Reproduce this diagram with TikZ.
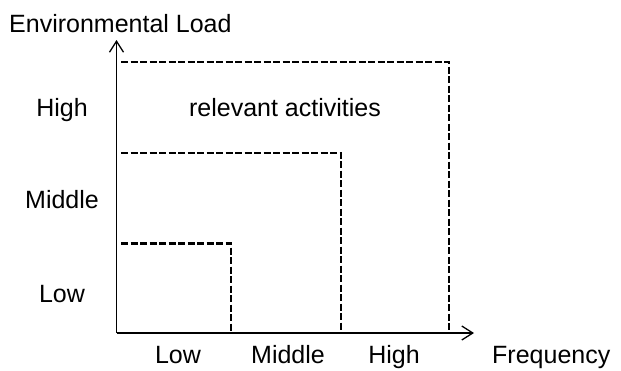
\documentclass[tikz,border=0pt]{standalone}
\usepackage{fontspec}
\setmainfont{Liberation Sans}
\usetikzlibrary{arrows.meta, positioning}

\begin{document}
\begin{tikzpicture}[x=1pt,y=-1pt,
  lbl/.style={font=\fontsize{25}{29}\selectfont,inner sep=0pt,anchor=base},
  ax/.style={-{Straight Barb[length=11pt,width=14pt]},line width=1.3pt},
  dsh/.style={dash pattern=on 7pt off 2.5pt,line width=2.6pt}]
  \useasboundingbox (0,0) rectangle (621,370);
  % axes
  \coordinate (o) at (116.5,333);
  \coordinate (ytop) at (116.5,40);
  \coordinate (xend) at (474,333);
  % dashed regions
  \draw[dsh](121,243.5) -| (231,333);
  \draw[dsh](121,153) -| (341,333);
  \draw[dsh](121,62) -| (449,333);
  \draw[ax](o)--(ytop);
  \draw[ax](o)--(xend);
  % labels
  \node[lbl,anchor=base west](yname) at (9,32){Environmental Load};
  \node[lbl](yhigh) at (62,116){High};
  \node[lbl](ymid) at (62,208){Middle};
  \node[lbl](ylow) at (62,302){Low};
  \node[lbl](xlow) at (178,363){Low};
  \node[lbl](xmid) at (288,363){Middle};
  \node[lbl](xhigh) at (394,363){High};
  \node[lbl,anchor=base west](xname) at (492,363){Frequency};
  \node[lbl](rel) at (285,116){relevant activities};
\end{tikzpicture}
\end{document}
